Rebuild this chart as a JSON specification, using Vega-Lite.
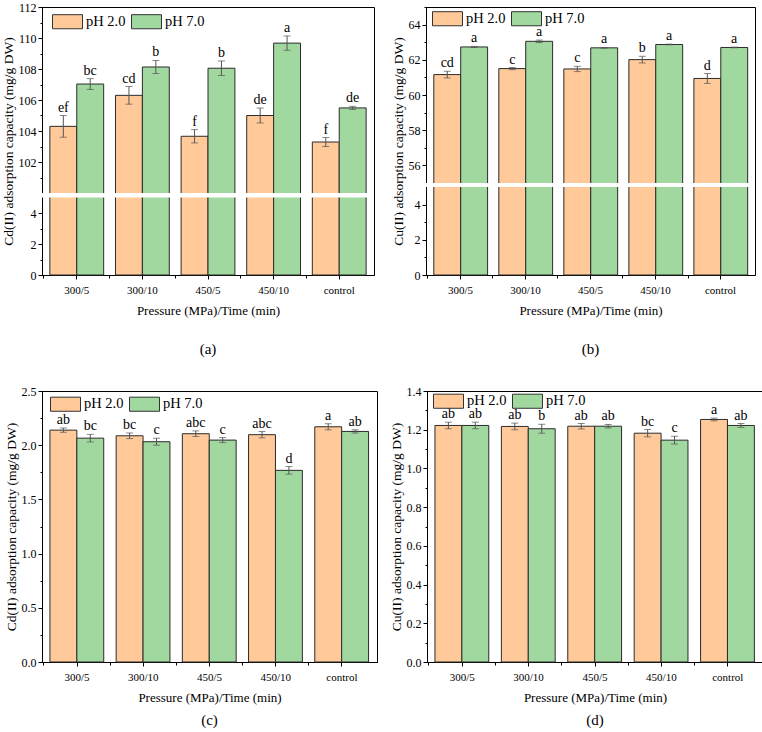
{
"$schema": "https://vega.github.io/schema/vega-lite/v6.json",
"padding": {"left": 0, "top": 0, "right": 0, "bottom": 0},
"spacing": 26,
"resolve": {"scale": {"color": "independent"}},
"datasets": {
"a": [
{"g":"300/5","pH":"pH 2.0","v":104.3,"lo":103.6,"hi":105.0,"t":"ef"},
{"g":"300/5","pH":"pH 7.0","v":107.03,"lo":106.68,"hi":107.38,"t":"bc"},
{"g":"300/10","pH":"pH 2.0","v":106.3,"lo":105.73,"hi":106.87,"t":"cd"},
{"g":"300/10","pH":"pH 7.0","v":108.13,"lo":107.71,"hi":108.55,"t":"b"},
{"g":"450/5","pH":"pH 2.0","v":103.66,"lo":103.23,"hi":104.09,"t":"f"},
{"g":"450/5","pH":"pH 7.0","v":108.05,"lo":107.58,"hi":108.52,"t":"b"},
{"g":"450/10","pH":"pH 2.0","v":105.0,"lo":104.52,"hi":105.48,"t":"de"},
{"g":"450/10","pH":"pH 7.0","v":109.67,"lo":109.21,"hi":110.13,"t":"a"},
{"g":"control","pH":"pH 2.0","v":103.29,"lo":103.0,"hi":103.58,"t":"f"},
{"g":"control","pH":"pH 7.0","v":105.49,"lo":105.39,"hi":105.59,"t":"de"}
],
"b": [
{"g":"300/5","pH":"pH 2.0","v":61.16,"lo":60.97,"hi":61.35,"t":"cd"},
{"g":"300/5","pH":"pH 7.0","v":62.73,"lo":62.70,"hi":62.76,"t":"a"},
{"g":"300/10","pH":"pH 2.0","v":61.50,"lo":61.44,"hi":61.56,"t":"c"},
{"g":"300/10","pH":"pH 7.0","v":63.05,"lo":62.98,"hi":63.12,"t":"a"},
{"g":"450/5","pH":"pH 2.0","v":61.48,"lo":61.33,"hi":61.63,"t":"c"},
{"g":"450/5","pH":"pH 7.0","v":62.68,"lo":62.66,"hi":62.70,"t":"a"},
{"g":"450/10","pH":"pH 2.0","v":62.01,"lo":61.82,"hi":62.20,"t":"b"},
{"g":"450/10","pH":"pH 7.0","v":62.87,"lo":62.85,"hi":62.89,"t":"a"},
{"g":"control","pH":"pH 2.0","v":60.94,"lo":60.66,"hi":61.22,"t":"d"},
{"g":"control","pH":"pH 7.0","v":62.70,"lo":62.68,"hi":62.72,"t":"a"}
],
"c": [
{"g":"300/5","pH":"pH 2.0","v":2.139,"lo":2.119,"hi":2.159,"t":"ab"},
{"g":"300/5","pH":"pH 7.0","v":2.065,"lo":2.03,"hi":2.10,"t":"bc"},
{"g":"300/10","pH":"pH 2.0","v":2.087,"lo":2.061,"hi":2.113,"t":"bc"},
{"g":"300/10","pH":"pH 7.0","v":2.032,"lo":2.0,"hi":2.064,"t":"c"},
{"g":"450/5","pH":"pH 2.0","v":2.106,"lo":2.08,"hi":2.132,"t":"abc"},
{"g":"450/5","pH":"pH 7.0","v":2.047,"lo":2.024,"hi":2.07,"t":"c"},
{"g":"450/10","pH":"pH 2.0","v":2.097,"lo":2.068,"hi":2.126,"t":"abc"},
{"g":"450/10","pH":"pH 7.0","v":1.768,"lo":1.733,"hi":1.803,"t":"d"},
{"g":"control","pH":"pH 2.0","v":2.17,"lo":2.142,"hi":2.198,"t":"a"},
{"g":"control","pH":"pH 7.0","v":2.127,"lo":2.112,"hi":2.142,"t":"ab"}
],
"d": [
{"g":"300/5","pH":"pH 2.0","v":1.222,"lo":1.205,"hi":1.239,"t":"ab"},
{"g":"300/5","pH":"pH 7.0","v":1.222,"lo":1.205,"hi":1.239,"t":"ab"},
{"g":"300/10","pH":"pH 2.0","v":1.217,"lo":1.2,"hi":1.234,"t":"ab"},
{"g":"300/10","pH":"pH 7.0","v":1.205,"lo":1.182,"hi":1.228,"t":"b"},
{"g":"450/5","pH":"pH 2.0","v":1.218,"lo":1.204,"hi":1.232,"t":"ab"},
{"g":"450/5","pH":"pH 7.0","v":1.218,"lo":1.209,"hi":1.227,"t":"ab"},
{"g":"450/10","pH":"pH 2.0","v":1.182,"lo":1.163,"hi":1.201,"t":"bc"},
{"g":"450/10","pH":"pH 7.0","v":1.146,"lo":1.126,"hi":1.166,"t":"c"},
{"g":"control","pH":"pH 2.0","v":1.253,"lo":1.246,"hi":1.26,"t":"a"},
{"g":"control","pH":"pH 7.0","v":1.222,"lo":1.212,"hi":1.232,"t":"ab"}
]
},
"vconcat": [
{"hconcat": [
{
"width": 332, "height": 268,
"data": {"name": "a"},
"title": {"text": "(a)", "orient": "bottom", "offset": 25},
"resolve": {"axis": {"x": "independent", "y": "independent"}},
"layer": [
{"mark": {"type": "bar", "stroke": "#2b2b2b", "strokeWidth": 1},
 "encoding": {
  "x": {"field": "g", "type": "nominal", "sort": ["300/5","300/10","450/5","450/10","control"], "scale": {"paddingInner": 0.18, "paddingOuter": 0.12}, "title": "Pressure (MPa)/Time (min)", "axis": {"labelAngle": 0, "orient": "bottom"}},
  "xOffset": {"field": "pH", "type": "nominal"},
  "y": {"field": "v", "type": "quantitative", "title": "Cd(II) adsorption capacity (mg/g DW)", "scale": {"domain": [0,5,100,112], "range": [268,190.5,186,0], "nice": false, "zero": false}, "axis": {"values": [0,2,4,102,104,106,108,110,112], "orient": "left"}},
  "color": {"field": "pH", "type": "nominal", "scale": {"domain": ["pH 2.0","pH 7.0"], "range": ["#FFC999","#A0D8A0"]}, "legend": {"orient": "none", "legendX": 10, "legendY": -1, "direction": "horizontal", "title": null, "symbolType": "M-1,-0.47H1V0.47H-1Z", "symbolSize": 900, "symbolStrokeColor": "#333", "symbolStrokeWidth": 1, "symbolOpacity": 1, "labelFontSize": 14.5, "labelFont": "Liberation Serif", "labelColor": "black", "labelOffset": 3, "columnPadding": 3, "padding": 0}}
 }},
{"mark": {"type": "rule", "color": "#555", "strokeWidth": 1},
 "encoding": {
  "x": {"field": "g", "type": "nominal", "sort": ["300/5","300/10","450/5","450/10","control"], "scale": {"paddingInner": 0.18, "paddingOuter": 0.12}, "axis": null},
  "xOffset": {"field": "pH", "type": "nominal"},
  "y": {"field": "lo", "type": "quantitative", "scale": {"domain": [0,5,100,112], "range": [268,190.5,186,0], "nice": false, "zero": false}, "axis": null},
  "y2": {"field": "hi"}
 }},
{"mark": {"type": "tick", "color": "#555", "size": 7, "thickness": 1},
 "encoding": {
  "x": {"field": "g", "type": "nominal", "sort": ["300/5","300/10","450/5","450/10","control"], "scale": {"paddingInner": 0.18, "paddingOuter": 0.12}, "axis": {"bandPosition": -0.11, "labels": false, "domain": false, "tickSize": 3, "title": null, "orient": "bottom"}},
  "xOffset": {"field": "pH", "type": "nominal"},
  "y": {"field": "lo", "type": "quantitative", "scale": {"domain": [0,5,100,112], "range": [268,190.5,186,0], "nice": false, "zero": false}, "axis": {"values": [1,3,101,103,105,107,109,111], "tickSize": 2, "labels": false, "domain": false, "title": null, "orient": "left"}}
 }},
{"mark": {"type": "tick", "color": "#555", "size": 7, "thickness": 1},
 "encoding": {
  "x": {"field": "g", "type": "nominal", "sort": ["300/5","300/10","450/5","450/10","control"], "scale": {"paddingInner": 0.18, "paddingOuter": 0.12}, "axis": null},
  "xOffset": {"field": "pH", "type": "nominal"},
  "y": {"field": "hi", "type": "quantitative", "scale": {"domain": [0,5,100,112], "range": [268,190.5,186,0], "nice": false, "zero": false}, "axis": null}
 }},
{"mark": {"type": "text", "font": "Liberation Serif", "fontSize": 14, "baseline": "bottom", "dy": -1, "color": "black"},
 "encoding": {
  "x": {"field": "g", "type": "nominal", "sort": ["300/5","300/10","450/5","450/10","control"], "scale": {"paddingInner": 0.18, "paddingOuter": 0.12}, "axis": null},
  "xOffset": {"field": "pH", "type": "nominal"},
  "y": {"field": "hi", "type": "quantitative", "scale": {"domain": [0,5,100,112], "range": [268,190.5,186,0], "nice": false, "zero": false}, "axis": null},
  "text": {"field": "t"}
 }},
{"data": {"values": [{"lo": 5, "hi": 100}]},
 "mark": {"type": "rect", "color": "white"},
 "encoding": {
  "y": {"field": "lo", "type": "quantitative", "scale": {"domain": [0,5,100,112], "range": [268,190.5,186,0], "nice": false, "zero": false}, "axis": null},
  "y2": {"field": "hi"}
 }}
]
},
{
"width": 329, "height": 268,
"data": {"name": "b"},
"title": {"text": "(b)", "orient": "bottom", "offset": 25},
"resolve": {"axis": {"x": "independent", "y": "independent"}},
"layer": [
{"mark": {"type": "bar", "stroke": "#2b2b2b", "strokeWidth": 1},
 "encoding": {
  "x": {"field": "g", "type": "nominal", "sort": ["300/5","300/10","450/5","450/10","control"], "scale": {"paddingInner": 0.18, "paddingOuter": 0.12}, "title": "Pressure (MPa)/Time (min)", "axis": {"labelAngle": 0, "orient": "bottom"}},
  "xOffset": {"field": "pH", "type": "nominal"},
  "y": {"field": "v", "type": "quantitative", "title": "Cu(II) adsorption capacity (mg/g DW)", "scale": {"domain": [0,5,55,65], "range": [268,180,176,0], "nice": false, "zero": false}, "axis": {"values": [0,2,4,56,58,60,62,64], "orient": "left"}},
  "color": {"field": "pH", "type": "nominal", "scale": {"domain": ["pH 2.0","pH 7.0"], "range": ["#FFC999","#A0D8A0"]}, "legend": {"orient": "none", "legendX": 6, "legendY": -4, "direction": "horizontal", "title": null, "symbolType": "M-1,-0.47H1V0.47H-1Z", "symbolSize": 900, "symbolStrokeColor": "#333", "symbolStrokeWidth": 1, "symbolOpacity": 1, "labelFontSize": 14.5, "labelFont": "Liberation Serif", "labelColor": "black", "labelOffset": 3, "columnPadding": 3, "padding": 0}}
 }},
{"mark": {"type": "rule", "color": "#555", "strokeWidth": 1},
 "encoding": {
  "x": {"field": "g", "type": "nominal", "sort": ["300/5","300/10","450/5","450/10","control"], "scale": {"paddingInner": 0.18, "paddingOuter": 0.12}, "axis": null},
  "xOffset": {"field": "pH", "type": "nominal"},
  "y": {"field": "lo", "type": "quantitative", "scale": {"domain": [0,5,55,65], "range": [268,180,176,0], "nice": false, "zero": false}, "axis": null},
  "y2": {"field": "hi"}
 }},
{"mark": {"type": "tick", "color": "#555", "size": 7, "thickness": 1},
 "encoding": {
  "x": {"field": "g", "type": "nominal", "sort": ["300/5","300/10","450/5","450/10","control"], "scale": {"paddingInner": 0.18, "paddingOuter": 0.12}, "axis": {"bandPosition": -0.11, "labels": false, "domain": false, "tickSize": 3, "title": null, "orient": "bottom"}},
  "xOffset": {"field": "pH", "type": "nominal"},
  "y": {"field": "lo", "type": "quantitative", "scale": {"domain": [0,5,55,65], "range": [268,180,176,0], "nice": false, "zero": false}, "axis": {"values": [1,3,57,59,61,63,65], "tickSize": 2, "labels": false, "domain": false, "title": null, "orient": "left"}}
 }},
{"mark": {"type": "tick", "color": "#555", "size": 7, "thickness": 1},
 "encoding": {
  "x": {"field": "g", "type": "nominal", "sort": ["300/5","300/10","450/5","450/10","control"], "scale": {"paddingInner": 0.18, "paddingOuter": 0.12}, "axis": null},
  "xOffset": {"field": "pH", "type": "nominal"},
  "y": {"field": "hi", "type": "quantitative", "scale": {"domain": [0,5,55,65], "range": [268,180,176,0], "nice": false, "zero": false}, "axis": null}
 }},
{"mark": {"type": "text", "font": "Liberation Serif", "fontSize": 14, "baseline": "bottom", "dy": -1, "color": "black"},
 "encoding": {
  "x": {"field": "g", "type": "nominal", "sort": ["300/5","300/10","450/5","450/10","control"], "scale": {"paddingInner": 0.18, "paddingOuter": 0.12}, "axis": null},
  "xOffset": {"field": "pH", "type": "nominal"},
  "y": {"field": "hi", "type": "quantitative", "scale": {"domain": [0,5,55,65], "range": [268,180,176,0], "nice": false, "zero": false}, "axis": null},
  "text": {"field": "t"}
 }},
{"data": {"values": [{"lo": 5, "hi": 55}]},
 "mark": {"type": "rect", "color": "white"},
 "encoding": {
  "y": {"field": "lo", "type": "quantitative", "scale": {"domain": [0,5,55,65], "range": [268,180,176,0], "nice": false, "zero": false}, "axis": null},
  "y2": {"field": "hi"}
 }}
]
}
], "spacing": 52, "bounds": "flush", "resolve": {"scale": {"color": "independent"}}},
{"hconcat": [
{
"width": 335, "height": 271,
"data": {"name": "c"},
"title": {"text": "(c)", "orient": "bottom", "offset": 9},
"resolve": {"axis": {"x": "independent", "y": "independent"}},
"layer": [
{"mark": {"type": "bar", "stroke": "#2b2b2b", "strokeWidth": 1},
 "encoding": {
  "x": {"field": "g", "type": "nominal", "sort": ["300/5","300/10","450/5","450/10","control"], "scale": {"paddingInner": 0.18, "paddingOuter": 0.12}, "title": "Pressure (MPa)/Time (min)", "axis": {"labelAngle": 0, "orient": "bottom"}},
  "xOffset": {"field": "pH", "type": "nominal"},
  "y": {"field": "v", "type": "quantitative", "title": "Cd(II) adsorption capacity (mg/g DW)", "scale": {"domain": [0,2.5], "nice": false, "zero": false}, "axis": {"values": [0,0.5,1,1.5,2,2.5], "format": ".1f", "orient": "left"}},
  "color": {"field": "pH", "type": "nominal", "scale": {"domain": ["pH 2.0","pH 7.0"], "range": ["#FFC999","#A0D8A0"]}, "legend": {"orient": "none", "legendX": 8, "legendY": -2.5, "direction": "horizontal", "title": null, "symbolType": "M-1,-0.47H1V0.47H-1Z", "symbolSize": 900, "symbolStrokeColor": "#333", "symbolStrokeWidth": 1, "symbolOpacity": 1, "labelFontSize": 14.5, "labelFont": "Liberation Serif", "labelColor": "black", "labelOffset": 3, "columnPadding": 3, "padding": 0}}
 }},
{"mark": {"type": "rule", "color": "#555", "strokeWidth": 1},
 "encoding": {
  "x": {"field": "g", "type": "nominal", "sort": ["300/5","300/10","450/5","450/10","control"], "scale": {"paddingInner": 0.18, "paddingOuter": 0.12}, "axis": null},
  "xOffset": {"field": "pH", "type": "nominal"},
  "y": {"field": "lo", "type": "quantitative", "scale": {"domain": [0,2.5], "nice": false, "zero": false}, "axis": null},
  "y2": {"field": "hi"}
 }},
{"mark": {"type": "tick", "color": "#555", "size": 7, "thickness": 1},
 "encoding": {
  "x": {"field": "g", "type": "nominal", "sort": ["300/5","300/10","450/5","450/10","control"], "scale": {"paddingInner": 0.18, "paddingOuter": 0.12}, "axis": {"bandPosition": -0.11, "labels": false, "domain": false, "tickSize": 3, "title": null, "orient": "bottom"}},
  "xOffset": {"field": "pH", "type": "nominal"},
  "y": {"field": "lo", "type": "quantitative", "scale": {"domain": [0,2.5], "nice": false, "zero": false}, "axis": {"values": [0.25,0.75,1.25,1.75,2.25], "tickSize": 2, "labels": false, "domain": false, "title": null, "orient": "left"}}
 }},
{"mark": {"type": "tick", "color": "#555", "size": 7, "thickness": 1},
 "encoding": {
  "x": {"field": "g", "type": "nominal", "sort": ["300/5","300/10","450/5","450/10","control"], "scale": {"paddingInner": 0.18, "paddingOuter": 0.12}, "axis": null},
  "xOffset": {"field": "pH", "type": "nominal"},
  "y": {"field": "hi", "type": "quantitative", "scale": {"domain": [0,2.5], "nice": false, "zero": false}, "axis": null}
 }},
{"mark": {"type": "text", "font": "Liberation Serif", "fontSize": 14, "baseline": "bottom", "dy": -1, "color": "black"},
 "encoding": {
  "x": {"field": "g", "type": "nominal", "sort": ["300/5","300/10","450/5","450/10","control"], "scale": {"paddingInner": 0.18, "paddingOuter": 0.12}, "axis": null},
  "xOffset": {"field": "pH", "type": "nominal"},
  "y": {"field": "hi", "type": "quantitative", "scale": {"domain": [0,2.5], "nice": false, "zero": false}, "axis": null},
  "text": {"field": "t"}
 }}
]
},
{
"width": 336, "height": 271,
"data": {"name": "d"},
"title": {"text": "(d)", "orient": "bottom", "offset": 9},
"resolve": {"axis": {"x": "independent", "y": "independent"}},
"layer": [
{"mark": {"type": "bar", "stroke": "#2b2b2b", "strokeWidth": 1},
 "encoding": {
  "x": {"field": "g", "type": "nominal", "sort": ["300/5","300/10","450/5","450/10","control"], "scale": {"paddingInner": 0.18, "paddingOuter": 0.12}, "title": "Pressure (MPa)/Time (min)", "axis": {"labelAngle": 0, "orient": "bottom"}},
  "xOffset": {"field": "pH", "type": "nominal"},
  "y": {"field": "v", "type": "quantitative", "title": "Cu(II) adsorption capacity (mg/g DW)", "scale": {"domain": [0,1.4], "nice": false, "zero": false}, "axis": {"values": [0,0.2,0.4,0.6,0.8,1,1.2,1.4], "format": ".1f", "orient": "left"}},
  "color": {"field": "pH", "type": "nominal", "scale": {"domain": ["pH 2.0","pH 7.0"], "range": ["#FFC999","#A0D8A0"]}, "legend": {"orient": "none", "legendX": 6, "legendY": -5.5, "direction": "horizontal", "title": null, "symbolType": "M-1,-0.47H1V0.47H-1Z", "symbolSize": 900, "symbolStrokeColor": "#333", "symbolStrokeWidth": 1, "symbolOpacity": 1, "labelFontSize": 14.5, "labelFont": "Liberation Serif", "labelColor": "black", "labelOffset": 3, "columnPadding": 3, "padding": 0}}
 }},
{"mark": {"type": "rule", "color": "#555", "strokeWidth": 1},
 "encoding": {
  "x": {"field": "g", "type": "nominal", "sort": ["300/5","300/10","450/5","450/10","control"], "scale": {"paddingInner": 0.18, "paddingOuter": 0.12}, "axis": null},
  "xOffset": {"field": "pH", "type": "nominal"},
  "y": {"field": "lo", "type": "quantitative", "scale": {"domain": [0,1.4], "nice": false, "zero": false}, "axis": null},
  "y2": {"field": "hi"}
 }},
{"mark": {"type": "tick", "color": "#555", "size": 7, "thickness": 1},
 "encoding": {
  "x": {"field": "g", "type": "nominal", "sort": ["300/5","300/10","450/5","450/10","control"], "scale": {"paddingInner": 0.18, "paddingOuter": 0.12}, "axis": {"bandPosition": -0.11, "labels": false, "domain": false, "tickSize": 3, "title": null, "orient": "bottom"}},
  "xOffset": {"field": "pH", "type": "nominal"},
  "y": {"field": "lo", "type": "quantitative", "scale": {"domain": [0,1.4], "nice": false, "zero": false}, "axis": {"values": [0.1,0.3,0.5,0.7,0.9,1.1,1.3], "tickSize": 2, "labels": false, "domain": false, "title": null, "orient": "left"}}
 }},
{"mark": {"type": "tick", "color": "#555", "size": 7, "thickness": 1},
 "encoding": {
  "x": {"field": "g", "type": "nominal", "sort": ["300/5","300/10","450/5","450/10","control"], "scale": {"paddingInner": 0.18, "paddingOuter": 0.12}, "axis": null},
  "xOffset": {"field": "pH", "type": "nominal"},
  "y": {"field": "hi", "type": "quantitative", "scale": {"domain": [0,1.4], "nice": false, "zero": false}, "axis": null}
 }},
{"mark": {"type": "text", "font": "Liberation Serif", "fontSize": 14, "baseline": "bottom", "dy": -1, "color": "black"},
 "encoding": {
  "x": {"field": "g", "type": "nominal", "sort": ["300/5","300/10","450/5","450/10","control"], "scale": {"paddingInner": 0.18, "paddingOuter": 0.12}, "axis": null},
  "xOffset": {"field": "pH", "type": "nominal"},
  "y": {"field": "hi", "type": "quantitative", "scale": {"domain": [0,1.4], "nice": false, "zero": false}, "axis": null},
  "text": {"field": "t"}
 }}
]
}
], "spacing": 50, "bounds": "flush", "resolve": {"scale": {"color": "independent"}}}
],
"config": {
 "font": "Liberation Serif",
 "background": "white",
 "view": {"stroke": "black", "strokeWidth": 1},
 "axis": {"domainColor": "black", "tickColor": "black", "labelColor": "black", "titleColor": "black", "labelFont": "Liberation Serif", "titleFont": "Liberation Serif", "titleFontWeight": "normal", "grid": false, "tickSize": 4, "labelFontSize": 12, "titleFontSize": 13.5, "domainWidth": 1, "tickWidth": 1},
 "axisX": {"labelFontSize": 11, "labelPadding": 5, "titlePadding": 9, "titleFontSize": 13},
 "axisY": {"labelPadding": 2, "titlePadding": 3},
 "title": {"font": "Liberation Serif", "fontSize": 15, "fontWeight": "normal", "color": "black"}
}
}
